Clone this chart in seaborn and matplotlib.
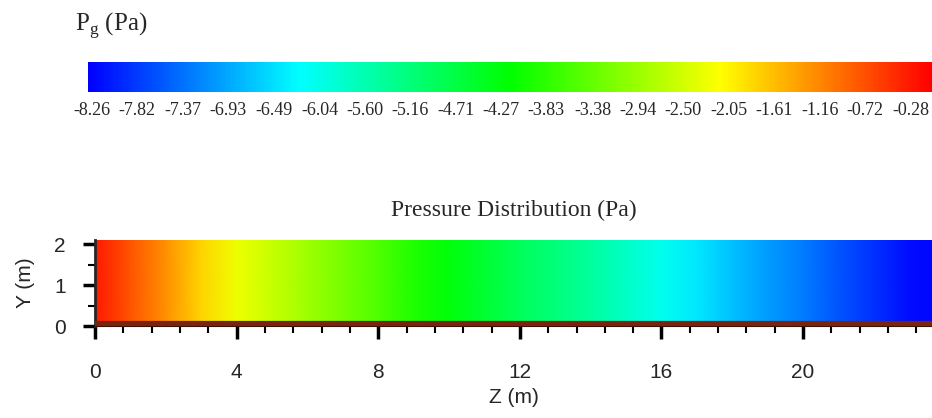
import matplotlib
matplotlib.use('Agg')

import numpy as np
import matplotlib.pyplot as plt
import seaborn as sns
from matplotlib.colors import LinearSegmentedColormap, Normalize
from matplotlib.cm import ScalarMappable
from matplotlib.ticker import MultipleLocator

# pressure (Pa) read along the channel length Z (m)
z_pos = [0, 1, 2, 3, 4, 5, 6, 7, 8, 9, 10, 11, 12, 13, 14, 15, 16,
         17, 18, 19, 20, 21, 22, 23, 24]
pressure = [-0.28, -0.76, -1.24, -1.80, -2.27, -2.59, -2.91, -3.23, -3.55,
            -3.95, -4.27, -4.59, -4.91, -5.15, -5.47, -5.79, -6.11,
            -6.42, -6.74, -7.02, -7.30, -7.62, -7.90, -8.18, -8.26]
y_edges = [0, 2.1]

cbar_ticks = [-8.26, -7.82, -7.37, -6.93, -6.49, -6.04, -5.60, -5.16, -4.71,
              -4.27, -3.83, -3.38, -2.94, -2.50, -2.05, -1.61, -1.16, -0.72, -0.28]
x_ticks = [0, 4, 8, 12, 16, 20]
y_ticks = [0, 1, 2]

sns.set_theme(style="ticks")
serif = ['Liberation Serif', 'DejaVu Serif']
sans = ['Liberation Sans Narrow', 'Liberation Sans', 'DejaVu Sans']

cmap = LinearSegmentedColormap.from_list(
    "pg", ["#0000ff", "#00ffff", "#00ff00", "#ffff00", "#ff0000"])
norm = Normalize(vmin=-8.30, vmax=-0.07)

W, H = 932, 418
fig = plt.figure(figsize=(W / 100, H / 100), dpi=100)
fig.patch.set_facecolor("white")

# colour scale on top
cax = fig.add_axes([88 / W, 1 - 92 / H, 844 / W, 30 / H])
cb = fig.colorbar(ScalarMappable(norm=norm, cmap=cmap), cax=cax,
                  orientation="horizontal", ticks=cbar_ticks)
cb.outline.set_visible(False)
cax.tick_params(axis="x", length=0, pad=7)
cax.set_xticklabels([f"{t:.2f}" for t in cbar_ticks], family=serif, fontsize=13)
fig.text(75 / W, 1 - 26 / H, r"P$_\mathregular{g}$ (Pa)", family=serif,
         fontsize=18, va="center", ha="left")

# pressure field
ax = fig.add_axes([95 / W, 1 - 326 / H, 1 - 95 / W, 86 / H])
field = np.vstack([pressure, pressure])
ax.pcolormesh(z_pos, y_edges, field, cmap=cmap, norm=norm, shading="gouraud")
ax.axhline(0.045, color="#7a2410", lw=4.5, zorder=3)
ax.set_xlim(0, 23.64)
ax.set_ylim(0, 2.1)

for side in ["top", "right"]:
    ax.spines[side].set_visible(False)
ax.spines["left"].set_linewidth(2)
ax.spines["bottom"].set_color("#3a1208")
ax.spines["bottom"].set_linewidth(1.5)

ax.set_xticks(x_ticks)
ax.set_yticks(y_ticks)
ax.xaxis.set_minor_locator(MultipleLocator(0.8))
ax.yaxis.set_minor_locator(MultipleLocator(0.5))
ax.tick_params(axis="both", which="major", direction="out", length=9, width=2.5,
               color="black")
ax.tick_params(axis="both", which="minor", direction="out", length=5, width=1.5,
               color="black")
ax.tick_params(axis="x", which="major", pad=18)
ax.tick_params(axis="y", which="major", pad=12)
for lab in ax.get_xticklabels() + ax.get_yticklabels():
    lab.set_family(sans)
    lab.set_fontsize(15)

ax.set_xlabel("Z (m)", family=sans, fontsize=15, labelpad=4)
ax.set_ylabel("Y (m)", family=sans, fontsize=15, labelpad=14)
ax.set_title("Pressure Distribution (Pa)", family=serif, fontsize=17, pad=17)

fig.savefig("out.png", dpi=100, facecolor="white")
